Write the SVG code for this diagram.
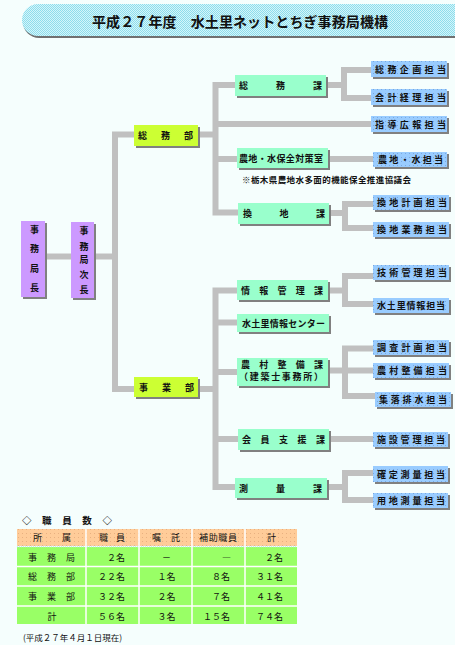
<svg xmlns="http://www.w3.org/2000/svg" width="455" height="645" viewBox="0 0 455 645">
<defs>
<pattern id="chk" width="2" height="2" patternUnits="userSpaceOnUse"><rect width="2" height="2" fill="#d4f6fa"/><rect width="1" height="1" fill="#8edcec"/><rect x="1" y="1" width="1" height="1" fill="#8edcec"/></pattern>
<pattern id="dotB" width="4" height="4" patternUnits="userSpaceOnUse"><rect width="4" height="4" fill="#99ccff"/><rect x="1" y="1" width="1" height="1" fill="#7aa8e0"/></pattern>
<pattern id="dotH" width="4" height="4" patternUnits="userSpaceOnUse"><rect width="4" height="4" fill="#ffcc99"/><rect x="2" y="1" width="1" height="1" fill="#e8b080"/></pattern>
<style>
.sh{fill:#808080}
.p{fill:#cc99ff}
.y{fill:#ccff33}
.m{fill:#99ffcc}
.b{fill:url(#dotB)}
.t{font-family:"Noto Sans CJK JP","Noto Sans CJK SC",sans-serif;font-size:9px;font-weight:bold;fill:#111}
.n{font-family:"Noto Sans CJK JP","Noto Sans CJK SC",sans-serif;font-size:9px;fill:#111}
.c{text-anchor:middle}
.r{text-anchor:end}
.con{fill:none;stroke:#c0c0c0;stroke-width:6;stroke-linejoin:miter;stroke-linecap:butt}
</style>
</defs>
<rect width="455" height="645" fill="#f5fefd"/>
<g id="title">
<rect x="23" y="6" width="470" height="32" rx="16" fill="#707070"/>
<rect x="22" y="4" width="470" height="32" rx="16" fill="url(#chk)"/>
<text x="92" y="27" class="t" style="font-size:14px" textLength="296" lengthAdjust="spacing">平成２７年度　水土里ネットとちぎ事務局機構</text>
</g>
<g id="connectors" class="con">
<path d="M45,256.5 H71"/>
<path d="M94,256.5 H115"/>
<path d="M134,134.5 H115 V389 H134"/>
<path d="M198,134.5 H215.5"/>
<path d="M235,85 H215.5 V212.5 H238"/>
<path d="M215.5,124 H371"/>
<path d="M215.5,159 H237"/>
<path d="M326,85 H344"/>
<path d="M371,70 H344 V98 H371"/>
<path d="M328,159 H373"/>
<path d="M329,213 H345"/>
<path d="M373,204 H345 V228 H373"/>
<path d="M198,389 H215.5"/>
<path d="M237,290.5 H215.5 V487 H235"/>
<path d="M215.5,322.5 H237"/>
<path d="M215.5,372 H237"/>
<path d="M215.5,439 H238"/>
<path d="M328,290.5 H345"/>
<path d="M373,276 H345 V304 H373"/>
<path d="M328,370.5 H373"/>
<path d="M373,348.5 H345 V396 H375"/>
<path d="M329,439 H373"/>
<path d="M327,487 H345"/>
<path d="M373,473 H345 V500 H373"/>
</g>
<g id="n-jimukyokucho">
<rect x="23" y="223" width="24" height="76" class="sh"/>
<rect x="21" y="221" width="24" height="76" class="p"/>
<text class="t c" x="34.5"><tspan x="34.5" y="232.5">事</tspan><tspan x="34.5" y="252">務</tspan><tspan x="34.5" y="271.5">局</tspan><tspan x="34.5" y="291">長</tspan></text>
</g>
<g id="n-jichou">
<rect x="73" y="224" width="23" height="76" class="sh"/>
<rect x="71" y="222" width="23" height="76" class="p"/>
<text class="t c" x="84"><tspan x="84" y="234">事</tspan><tspan x="84" y="249.5">務</tspan><tspan x="84" y="263">局</tspan><tspan x="84" y="277.5">次</tspan><tspan x="84" y="293">長</tspan></text>
</g>
<g id="n-soumubu">
<rect x="136" y="127" width="64" height="21" class="sh"/>
<rect x="134" y="125" width="64" height="21" class="y"/>
<text class="t" x="138" y="139" textLength="55" lengthAdjust="spacing">総務部</text>
</g>
<g id="n-jigyoubu">
<rect x="136" y="379" width="64" height="20" class="sh"/>
<rect x="134" y="377" width="64" height="20" class="y"/>
<text class="t" x="139" y="390.5" textLength="55" lengthAdjust="spacing">事業部</text>
</g>
<g id="n-soumuka">
<rect x="237" y="77" width="91" height="21" class="sh"/>
<rect x="235" y="75" width="91" height="21" class="m"/>
<text class="t" x="239" y="89" textLength="83" lengthAdjust="spacing">総務課</text>
</g>
<g id="n-nouchi">
<rect x="239" y="150" width="91" height="20" class="sh"/>
<rect x="237" y="148" width="91" height="20" class="m"/>
<text class="t" x="239" y="161.5" textLength="84" lengthAdjust="spacing">農地・水保全対策室</text>
</g>
<text class="t" x="242" y="183" style="font-size:8.5px" textLength="169" lengthAdjust="spacing">※栃木県農地水多面的機能保全推進協議会</text>
<g id="n-kanchika">
<rect x="240" y="205" width="91" height="21" class="sh"/>
<rect x="238" y="203" width="91" height="21" class="m"/>
<text class="t" x="243" y="217" textLength="82" lengthAdjust="spacing">換地課</text>
</g>
<g id="n-jouhou">
<rect x="239" y="282" width="91" height="20" class="sh"/>
<rect x="237" y="280" width="91" height="20" class="m"/>
<text class="t" x="241" y="293.5" textLength="82" lengthAdjust="spacing">情報管理課</text>
</g>
<g id="n-center">
<rect x="239" y="316" width="92" height="18" class="sh"/>
<rect x="237" y="314" width="92" height="18" class="m"/>
<text class="t" x="242" y="326.5" textLength="83" lengthAdjust="spacing">水土里情報センター</text>
</g>
<g id="n-nouson">
<rect x="239" y="360" width="91" height="28" class="sh"/>
<rect x="237" y="358" width="91" height="28" class="m"/>
<text class="t" x="241" y="368" textLength="82" lengthAdjust="spacing">農村整備課</text>
<text class="t" x="239" y="380" textLength="84" lengthAdjust="spacing">（建築士事務所）</text>
</g>
<g id="n-kaiin">
<rect x="240" y="431" width="91" height="21" class="sh"/>
<rect x="238" y="429" width="91" height="21" class="m"/>
<text class="t" x="242" y="443" textLength="83" lengthAdjust="spacing">会員支援課</text>
</g>
<g id="n-sokuryou">
<rect x="237" y="480" width="92" height="20" class="sh"/>
<rect x="235" y="478" width="92" height="20" class="m"/>
<text class="t" x="239" y="491.5" textLength="83" lengthAdjust="spacing">測量課</text>
</g>
<g id="t-soumukikaku"><rect x="373" y="63" width="76" height="16" class="sh"/><rect x="371" y="61" width="76" height="16" class="b"/><text class="t" x="375" y="72.5" textLength="71" lengthAdjust="spacing">総務企画担当</text></g>
<g id="t-kaikei"><rect x="373" y="91" width="76" height="16" class="sh"/><rect x="371" y="89" width="76" height="16" class="b"/><text class="t" x="375" y="100.5" textLength="71" lengthAdjust="spacing">会計経理担当</text></g>
<g id="t-shidou"><rect x="373" y="118" width="76" height="16" class="sh"/><rect x="371" y="116" width="76" height="16" class="b"/><text class="t" x="375" y="127.5" textLength="71" lengthAdjust="spacing">指導広報担当</text></g>
<g id="t-nouchimizu"><rect x="375" y="154" width="74" height="15" class="sh"/><rect x="373" y="152" width="74" height="15" class="b"/><text class="t" x="378" y="163" textLength="65" lengthAdjust="spacing">農地・水担当</text></g>
<g id="t-kanchikeikaku"><rect x="375" y="197" width="76" height="15" class="sh"/><rect x="373" y="195" width="76" height="15" class="b"/><text class="t" x="377" y="206" textLength="70" lengthAdjust="spacing">換地計画担当</text></g>
<g id="t-kanchigyoumu"><rect x="375" y="224" width="76" height="15" class="sh"/><rect x="373" y="222" width="76" height="15" class="b"/><text class="t" x="377" y="233" textLength="70" lengthAdjust="spacing">換地業務担当</text></g>
<g id="t-gijutsu"><rect x="375" y="267" width="76" height="15" class="sh"/><rect x="373" y="265" width="76" height="15" class="b"/><text class="t" x="377" y="276" textLength="70" lengthAdjust="spacing">技術管理担当</text></g>
<g id="t-midorijouhou"><rect x="375" y="300" width="76" height="15" class="sh"/><rect x="373" y="298" width="76" height="15" class="b"/><text class="t" x="377" y="309" textLength="68" lengthAdjust="spacing">水土里情報担当</text></g>
<g id="t-chousa"><rect x="375" y="342" width="76" height="15" class="sh"/><rect x="373" y="340" width="76" height="15" class="b"/><text class="t" x="377" y="351" textLength="70" lengthAdjust="spacing">調査計画担当</text></g>
<g id="t-nousonseibi"><rect x="375" y="365" width="76" height="15" class="sh"/><rect x="373" y="363" width="76" height="15" class="b"/><text class="t" x="377" y="374" textLength="70" lengthAdjust="spacing">農村整備担当</text></g>
<g id="t-shuuraku"><rect x="377" y="394" width="76" height="15" class="sh"/><rect x="375" y="392" width="76" height="15" class="b"/><text class="t" x="379" y="403" textLength="68" lengthAdjust="spacing">集落排水担当</text></g>
<g id="t-shisetsu"><rect x="375" y="434" width="75" height="15" class="sh"/><rect x="373" y="432" width="75" height="15" class="b"/><text class="t" x="377" y="443" textLength="68" lengthAdjust="spacing">施設管理担当</text></g>
<g id="t-kakutei"><rect x="375" y="468" width="75" height="16" class="sh"/><rect x="373" y="466" width="75" height="16" class="b"/><text class="t" x="377" y="477.5" textLength="68" lengthAdjust="spacing">確定測量担当</text></g>
<g id="t-youchi"><rect x="375" y="495" width="75" height="15" class="sh"/><rect x="373" y="493" width="75" height="15" class="b"/><text class="t" x="377" y="504" textLength="68" lengthAdjust="spacing">用地測量担当</text></g>
<g id="staff-table">
<text class="t" x="22" y="524" style="font-size:9.5px" textLength="90" lengthAdjust="spacing">◇職員数◇</text>
<rect x="17" y="529" width="280" height="17" fill="url(#dotH)"/>
<rect x="17" y="547" width="280" height="77" fill="#99ff66"/>
<g stroke="#ffffff" stroke-width="1.5">
<line x1="17" y1="546.5" x2="297" y2="546.5" stroke-dasharray="1 1" stroke="#c8e8f0"/>
<line x1="17" y1="566.5" x2="297" y2="566.5"/>
<line x1="17" y1="586" x2="297" y2="586"/>
<line x1="17" y1="606" x2="297" y2="606"/>
<line x1="86" y1="529" x2="86" y2="624"/>
<line x1="139" y1="529" x2="139" y2="624"/>
<line x1="192" y1="529" x2="192" y2="624"/>
<line x1="245" y1="529" x2="245" y2="624"/>
</g>
<text class="n" x="33" y="541" textLength="38" lengthAdjust="spacing">所属</text>
<text class="n" x="99" y="541" textLength="26" lengthAdjust="spacing">職員</text>
<text class="n" x="152" y="541" textLength="28" lengthAdjust="spacing">嘱託</text>
<text class="n" x="199" y="541" textLength="38" lengthAdjust="spacing">補助職員</text>
<text class="n c" x="271.5" y="541">計</text>
<text class="n" x="28" y="560.5" textLength="47" lengthAdjust="spacing">事務局</text>
<text class="n" x="28" y="580" textLength="47" lengthAdjust="spacing">総務部</text>
<text class="n" x="28" y="600" textLength="47" lengthAdjust="spacing">事業部</text>
<text class="n c" x="52" y="619.5">計</text>
<text class="n r" x="125" y="560.5">２名</text>
<text class="n r" x="125" y="580">２２名</text>
<text class="n r" x="125" y="600">３２名</text>
<text class="n r" x="125" y="619.5">５６名</text>
<text class="n c" x="166.5" y="560.5">－</text>
<text class="n c" x="166.5" y="580">１名</text>
<text class="n c" x="166.5" y="600">２名</text>
<text class="n c" x="166.5" y="619.5">３名</text>
<text class="n r" x="231" y="560.5">―</text>
<text class="n r" x="230" y="580">８名</text>
<text class="n r" x="230" y="600">７名</text>
<text class="n r" x="230" y="619.5">１５名</text>
<text class="n r" x="283" y="560.5">２名</text>
<text class="n r" x="283" y="580">３１名</text>
<text class="n r" x="283" y="600">４１名</text>
<text class="n r" x="283" y="619.5">７４名</text>
<text class="n" x="23" y="641" style="font-size:8.5px">(平成２７年４月１日現在)</text>
</g>
</svg>
